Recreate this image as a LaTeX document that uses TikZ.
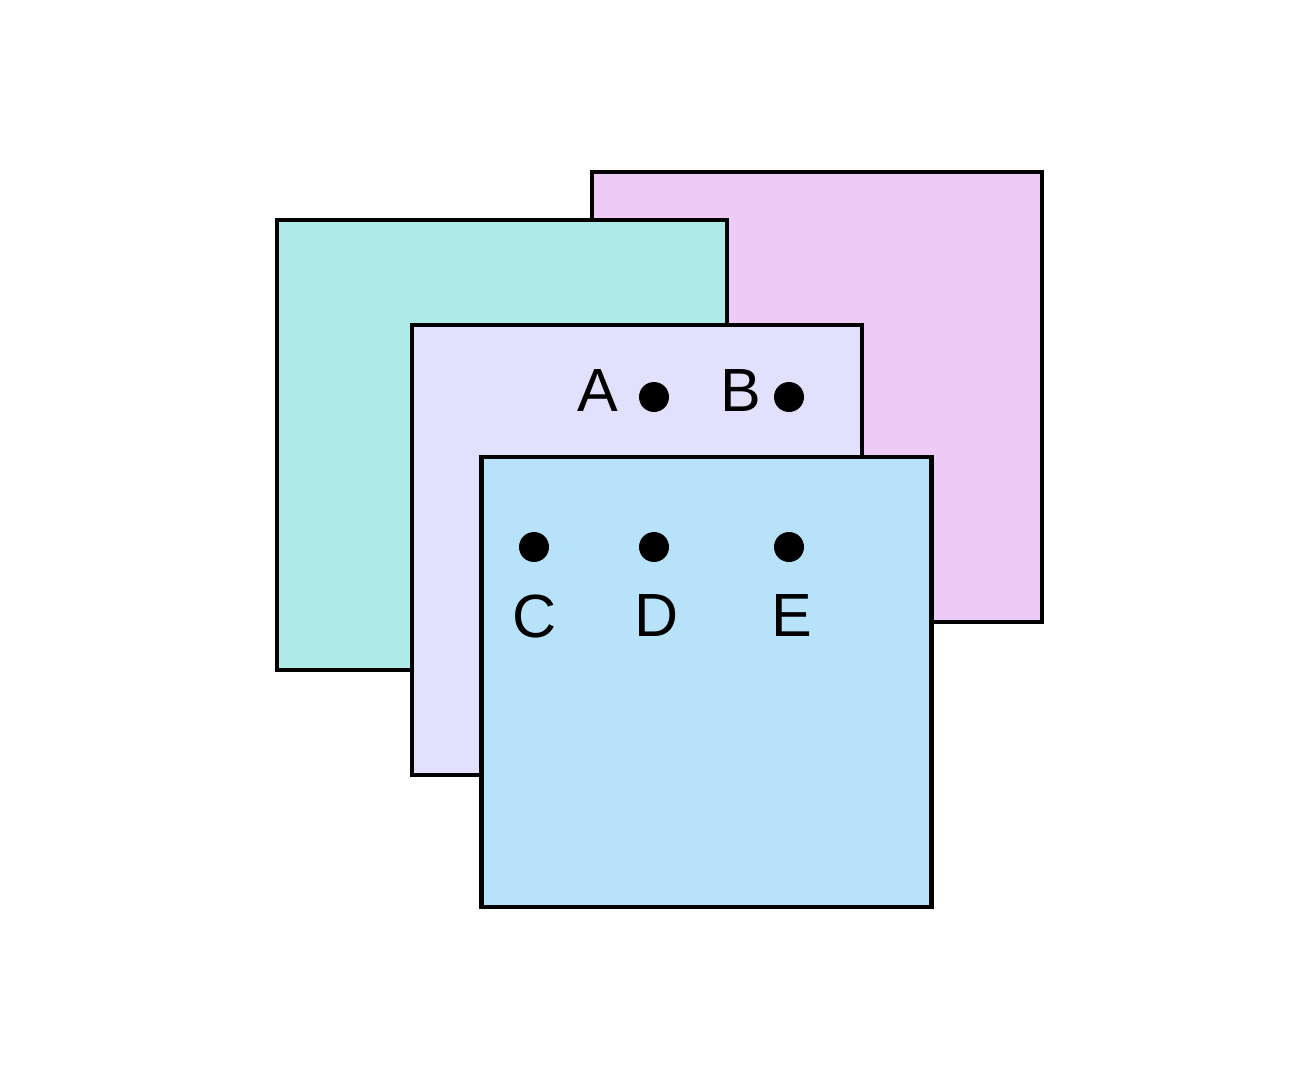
\documentclass[tikz,border=0pt]{standalone}
\usepackage{fontspec}
\setmainfont{Liberation Sans}
\definecolor{pinkc}{HTML}{EECAF7}
\definecolor{tealc}{HTML}{AEEBE6}
\definecolor{lavc}{HTML}{E3E0FD}
\definecolor{bluec}{HTML}{B8E2FA}
\begin{document}
\begin{tikzpicture}[x=1pt,y=-1pt,
  sq/.style={draw=black,line width=4.5pt,minimum size=450pt,inner sep=0pt,outer sep=0pt},
  dot/.style={circle,fill=black,minimum size=30pt,inner sep=0pt},
  lbl/.style={inner sep=0pt,font=\fontsize{61}{61}\selectfont}]
\useasboundingbox (0,0) rectangle (1310,1066);
\node[sq,fill=pinkc] (pink) at (817,397) {};
\node[sq,fill=tealc] (teal) at (502,445) {};
\node[sq,fill=lavc] (lav) at (637,550) {};
\node[sq,fill=bluec] (blue) at (706.5,682) {};
\node[dot] (dA) at (654,397) {};
\node[dot] (dB) at (789,397) {};
\node[dot] (dC) at (534,547) {};
\node[dot] (dD) at (654,547) {};
\node[dot] (dE) at (789,547) {};
\node[lbl] (lA) at (598,391) {A};
\node[lbl] (lB) at (741,391) {B};
\node[lbl] (lC) at (535,616) {C};
\node[lbl] (lD) at (657,616) {D};
\node[lbl] (lE) at (792,616) {E};
\end{tikzpicture}
\end{document}
